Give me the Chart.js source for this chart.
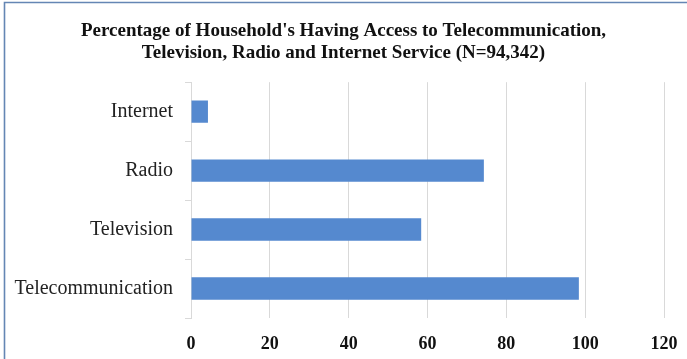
<!DOCTYPE html>
<html>
<head>
<meta charset="utf-8">
<script src="https://cdn.jsdelivr.net/npm/chart.js@4"></script>
<style>
  html, body { margin: 0; padding: 0; background: #fff; }
  #wrap { width: 687px; height: 359px; position: relative; }
</style>
</head>
<body>
<div id="wrap"><canvas id="c" width="687" height="359"></canvas></div>
<script>
const categories = ["Internet", "Radio", "Television", "Telecommunication"];
const percentages = [4.3, 74.3, 58.4, 98.4];
const titleLines = ["Percentage of Household's Having Access to Telecommunication,", "Television, Radio and Internet Service (N=94,342)"];
const xMin = 0, xMax = 120, xStep = 20;

const frame = {
  id: 'frame',
  afterDraw(chart) {
    const ctx = chart.ctx;
    ctx.save();
    ctx.strokeStyle = '#6486b4';
    ctx.lineWidth = 1.6;
    ctx.beginPath();
    ctx.moveTo(4.5, 359);
    ctx.lineTo(4.5, 2.5);
    ctx.lineTo(687, 2.5);
    ctx.stroke();
    ctx.restore();
  }
};

new Chart(document.getElementById('c'), {
  type: 'bar',
  data: {
    labels: categories,
    datasets: [{
      data: percentages,
      backgroundColor: '#5589cf',
      borderWidth: 0,
      categoryPercentage: 1,
      barPercentage: 0.38
    }]
  },
  plugins: [frame],
  options: {
    indexAxis: 'y',
    responsive: false,
    animation: false,
    devicePixelRatio: 1,
    layout: { padding: 0 },
    plugins: {
      legend: { display: false },
      tooltip: { enabled: false },
      title: {
        display: true,
        text: titleLines,
        color: '#111',
        font: { family: 'Liberation Serif', size: 19, weight: 'bold', lineHeight: 1.11 },
        padding: { top: 21, bottom: 19 }
      }
    },
    scales: {
      x: {
        min: xMin, max: xMax,
        afterFit(scale) { scale.height = 41; scale.paddingRight = 23; scale.paddingLeft = 0; },
        ticks: {
          stepSize: xStep,
          color: '#111',
          font: { family: 'Liberation Serif', size: 18, weight: 'bold' },
          padding: 16
        },
        grid: { color: '#d9d9d9', lineWidth: 1, drawTicks: false },
        border: { display: false }
      },
      y: {
        afterFit(scale) { scale.width = 191; },
        ticks: {
          color: '#222',
          font: { family: 'Liberation Serif', size: 20 },
          padding: 12
        },
        grid: { drawOnChartArea: false, drawTicks: true, tickLength: 6, color: '#d9d9d9' },
        border: { display: true, color: '#d9d9d9', width: 1 }
      }
    }
  }
});
</script>
</body>
</html>
